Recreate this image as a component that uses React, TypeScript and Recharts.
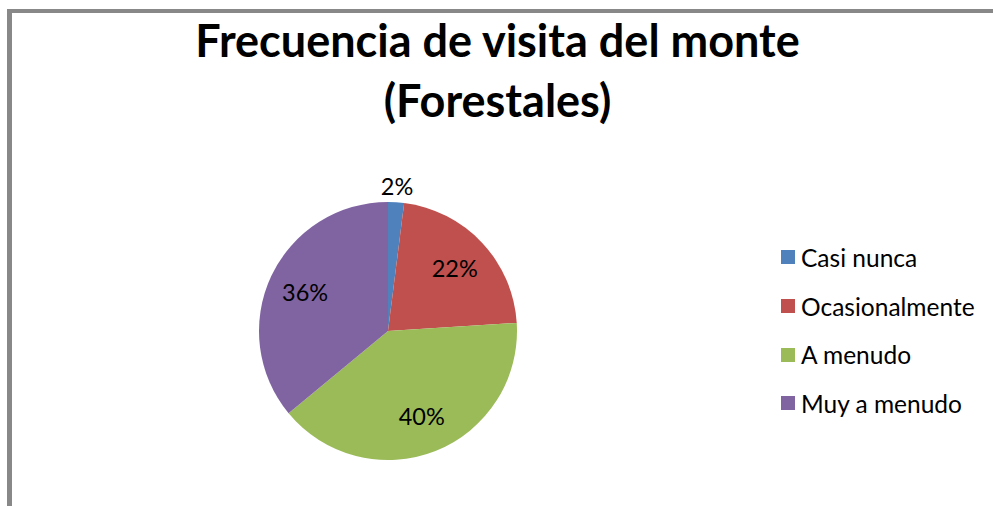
import { Cell, Legend, Pie, PieChart } from 'recharts';

const categories = ['Casi nunca', 'Ocasionalmente', 'A menudo', 'Muy a menudo'];
const percentValues = [2, 22, 40, 36];
const sliceColors = ['#4F81BD', '#C0504D', '#9BBB59', '#8064A2'];
const titleLines = ['Frecuencia de visita del monte', '(Forestales)'];

const data = categories.map((name, i) => ({ name, value: percentValues[i] }));

const RAD = Math.PI / 180;
const FONT = 'Lato, "Open Sans", sans-serif';

function renderLabel({ cx, cy, midAngle, outerRadius, percent }: any) {
	const small = percent < 0.05;
	const r = small ? outerRadius + 16 : outerRadius * 0.71;
	const x = cx + r * Math.cos(-midAngle * RAD);
	const y = cy + r * Math.sin(-midAngle * RAD);
	return (
		<text
			x={x}
			y={y}
			fill="#000"
			fontSize={23.5}
			fontFamily={FONT}
			textAnchor="middle"
			dominantBaseline="central"
		>
			{`${Math.round(percent * 100)}%`}
		</text>
	);
}

function renderLegend() {
	return (
		<div style={{ fontFamily: FONT, fontSize: 24.5, color: '#000' }}>
			{categories.map((name, i) => (
				<div key={name} style={{ display: 'flex', alignItems: 'center', height: 48.7 }}>
					<span
						style={{
							display: 'inline-block',
							width: 14,
							height: 14,
							background: sliceColors[i],
							marginRight: 6,
						}}
					/>
					<span>{name}</span>
				</div>
			))}
		</div>
	);
}

export default function App() {
	return (
		<div style={{ position: 'absolute', left: 0, top: 0, width: 993, height: 506, background: '#fff' }}>
			<div
				style={{
					position: 'absolute',
					left: 7,
					top: 9,
					width: 986,
					height: 497,
					borderLeft: '5px solid #888',
					borderTop: '4px solid #888',
					boxSizing: 'border-box',
				}}
			/>
			<div
				style={{
					position: 'absolute',
					left: 0,
					top: 10,
					width: 995,
					textAlign: 'center',
					fontFamily: FONT,
					fontWeight: 700,
					fontSize: 45,
					lineHeight: '60px',
					color: '#000',
				}}
			>
				{titleLines.map((t) => (
					<div key={t}>{t}</div>
				))}
			</div>
			<div style={{ position: 'absolute', left: 0, top: 0 }}>
				<PieChart width={993} height={506} margin={{ top: 0, right: 0, bottom: 0, left: 0 }}>
					<Pie
						data={data}
						dataKey="value"
						nameKey="name"
						cx={388}
						cy={331}
						outerRadius={129}
						startAngle={90}
						endAngle={-270}
						stroke="none"
						label={renderLabel}
						labelLine={false}
						isAnimationActive={false}
					>
						{data.map((d, i) => (
							<Cell key={d.name} fill={sliceColors[i]} />
						))}
					</Pie>
					<Legend
						layout="vertical"
						align="right"
						verticalAlign="top"
						content={renderLegend}
						wrapperStyle={{ left: 781, top: 233, width: 212 }}
					/>
				</PieChart>
			</div>
		</div>
	);
}
